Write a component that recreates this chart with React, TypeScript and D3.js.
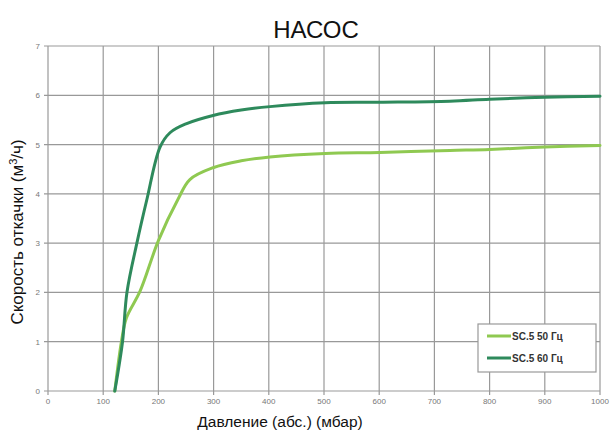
import React from "react";
import * as d3 from "d3";

const xTicks = [0, 100, 200, 300, 400, 500, 600, 700, 800, 900, 1000];
const yTicks = [0, 1, 2, 3, 4, 5, 6, 7];

const pressure50 = [121, 133, 142, 167, 200, 236, 257, 299, 350, 402, 502, 601, 728, 800, 900, 1000];
const speed50 = [0, 1.0, 1.48, 2.03, 3.05, 3.9, 4.29, 4.53, 4.67, 4.75, 4.82, 4.84, 4.88, 4.9, 4.95, 4.98];

const pressure60 = [121, 135, 143, 161, 179, 203, 221, 250, 299, 350, 402, 502, 601, 728, 800, 900, 1000];
const speed60 = [0, 1.0, 2.0, 3.0, 3.88, 4.95, 5.24, 5.42, 5.59, 5.7, 5.77, 5.85, 5.86, 5.88, 5.92, 5.96, 5.98];

const seriesNames = ["SC.5 50 Гц", "SC.5 60 Гц"];
const seriesColors = ["#8fc951", "#2e8a5c"];

export default function App() {
  const W = 612, H = 432;
  const x = d3.scaleLinear().domain([0, 1000]).range([48, 600]);
  const y = d3.scaleLinear().domain([0, 7]).range([391, 46]);
  const line = d3
    .line<[number, number]>()
    .x((d) => x(d[0]))
    .y((d) => y(d[1]))
    .curve(d3.curveCatmullRom.alpha(0.5));
  const s50 = pressure50.map((p, i) => [p, speed50[i]] as [number, number]);
  const s60 = pressure60.map((p, i) => [p, speed60[i]] as [number, number]);
  const series = [s50, s60];
  const font = "Liberation Sans, Arial, sans-serif";
  const gridColor = "#999";

  return (
    <svg width={W} height={H} style={{ position: "absolute", left: 0, top: 0, background: "#fff" }} fontFamily={font}>
      <rect x={0} y={0} width={W} height={H} fill="#fff" />
      <text x={316} y={38} textAnchor="middle" fontSize={24} fill="#111">НАСОС</text>
      {/* grid */}
      {xTicks.map((t) => (
        <line key={"gx" + t} x1={x(t)} x2={x(t)} y1={y(7)} y2={y(0) + 4} stroke={gridColor} strokeWidth={1.2} />
      ))}
      {yTicks.map((t) => (
        <line key={"gy" + t} x1={x(0) - 4} x2={x(1000)} y1={y(t)} y2={y(t)} stroke={gridColor} strokeWidth={1.2} />
      ))}
      {/* tick labels */}
      {xTicks.map((t) => (
        <text key={"tx" + t} x={x(t)} y={y(0) + 13} textAnchor="middle" fontSize={8} fill="#777">{t}</text>
      ))}
      {yTicks.map((t) => (
        <text key={"ty" + t} x={x(0) - 8} y={y(t) + 3} textAnchor="end" fontSize={8} fill="#777">{t}</text>
      ))}
      {/* curves */}
      {series.map((s, i) => (
        <path key={"s" + i} d={line(s) || ""} fill="none" stroke={seriesColors[i]} strokeWidth={3} strokeLinejoin="round" strokeLinecap="round" />
      ))}
      {/* axis labels */}
      <text x={280} y={427} textAnchor="middle" fontSize={15.5} fill="#111">Давление  (абс.) (мбар)</text>
      <text transform="translate(23,232) rotate(-90)" textAnchor="middle" fontSize={17} fill="#111">
        Скорость откачки (м<tspan dy={-6} fontSize={11}>3</tspan><tspan dy={6}>/ч)</tspan>
      </text>
      {/* legend */}
      <rect x={478} y={324} width={118} height={48} fill="#fff" stroke="#999" strokeWidth={1.2} />
      {seriesNames.map((n, i) => (
        <g key={"l" + i}>
          <line x1={487} x2={511} y1={336 + i * 22} y2={336 + i * 22} stroke={seriesColors[i]} strokeWidth={3} />
          <text x={512} y={340 + i * 22} fontSize={10} fontWeight="bold" fill="#333">{n}</text>
        </g>
      ))}
    </svg>
  );
}
